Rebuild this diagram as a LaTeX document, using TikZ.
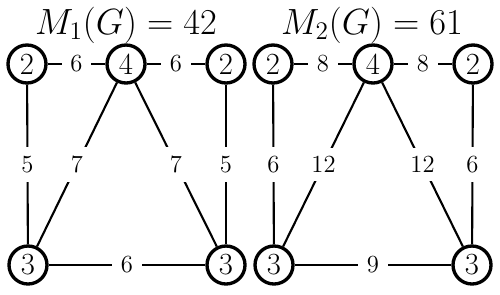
\documentclass[tikz,border=0pt]{standalone}
\usepackage{amsmath, amssymb}
\usepackage{tikz}
\usetikzlibrary{positioning}
\tikzset{
  vertexnode/.style={draw, circle, line width=1.9pt, fill=white, minimum size=0.76cm, inner sep=0pt, font=\fontsize{17.5}{19}\selectfont},
  weightlabel/.style={fill=white, inner sep=5pt, font=\fontsize{14}{16}\selectfont},
  edgeline/.style={line width=1.2pt},
  titlelabel/.style={font=\fontsize{21}{23}\selectfont, inner sep=0pt}
}
\begin{document}
\begin{tikzpicture}
  \useasboundingbox (0,0) rectangle (10,5.88);
  % first index
  \node[titlelabel] (t1) at (2.52,5.38) {$M_1(G) = 42$};
  \node[vertexnode] (a1) at (0.54,4.60) {2};
  \node[vertexnode] (a2) at (2.52,4.60) {4};
  \node[vertexnode] (a3) at (4.52,4.60) {2};
  \node[vertexnode] (a4) at (0.56,0.58) {3};
  \node[vertexnode] (a5) at (4.52,0.58) {3};
  \draw[edgeline] (a1) -- node[weightlabel] {6} (a2);
  \draw[edgeline] (a2) -- node[weightlabel] {6} (a3);
  \draw[edgeline] (a1) -- node[weightlabel] {5} (a4);
  \draw[edgeline] (a2) -- node[weightlabel] {7} (a4);
  \draw[edgeline] (a2) -- node[weightlabel] {7} (a5);
  \draw[edgeline] (a3) -- node[weightlabel] {5} (a5);
  \draw[edgeline] (a4) -- node[weightlabel] {6} (a5);
  % second index
  \node[titlelabel] (t2) at (7.44,5.38) {$M_2(G) = 61$};
  \node[vertexnode] (b1) at (5.46,4.60) {2};
  \node[vertexnode] (b2) at (7.46,4.60) {4};
  \node[vertexnode] (b3) at (9.46,4.60) {2};
  \node[vertexnode] (b4) at (5.48,0.58) {3};
  \node[vertexnode] (b5) at (9.44,0.58) {3};
  \draw[edgeline] (b1) -- node[weightlabel] {8} (b2);
  \draw[edgeline] (b2) -- node[weightlabel] {8} (b3);
  \draw[edgeline] (b1) -- node[weightlabel] {6} (b4);
  \draw[edgeline] (b2) -- node[weightlabel] {12} (b4);
  \draw[edgeline] (b2) -- node[weightlabel] {12} (b5);
  \draw[edgeline] (b3) -- node[weightlabel] {6} (b5);
  \draw[edgeline] (b4) -- node[weightlabel] {9} (b5);
\end{tikzpicture}
\end{document}
